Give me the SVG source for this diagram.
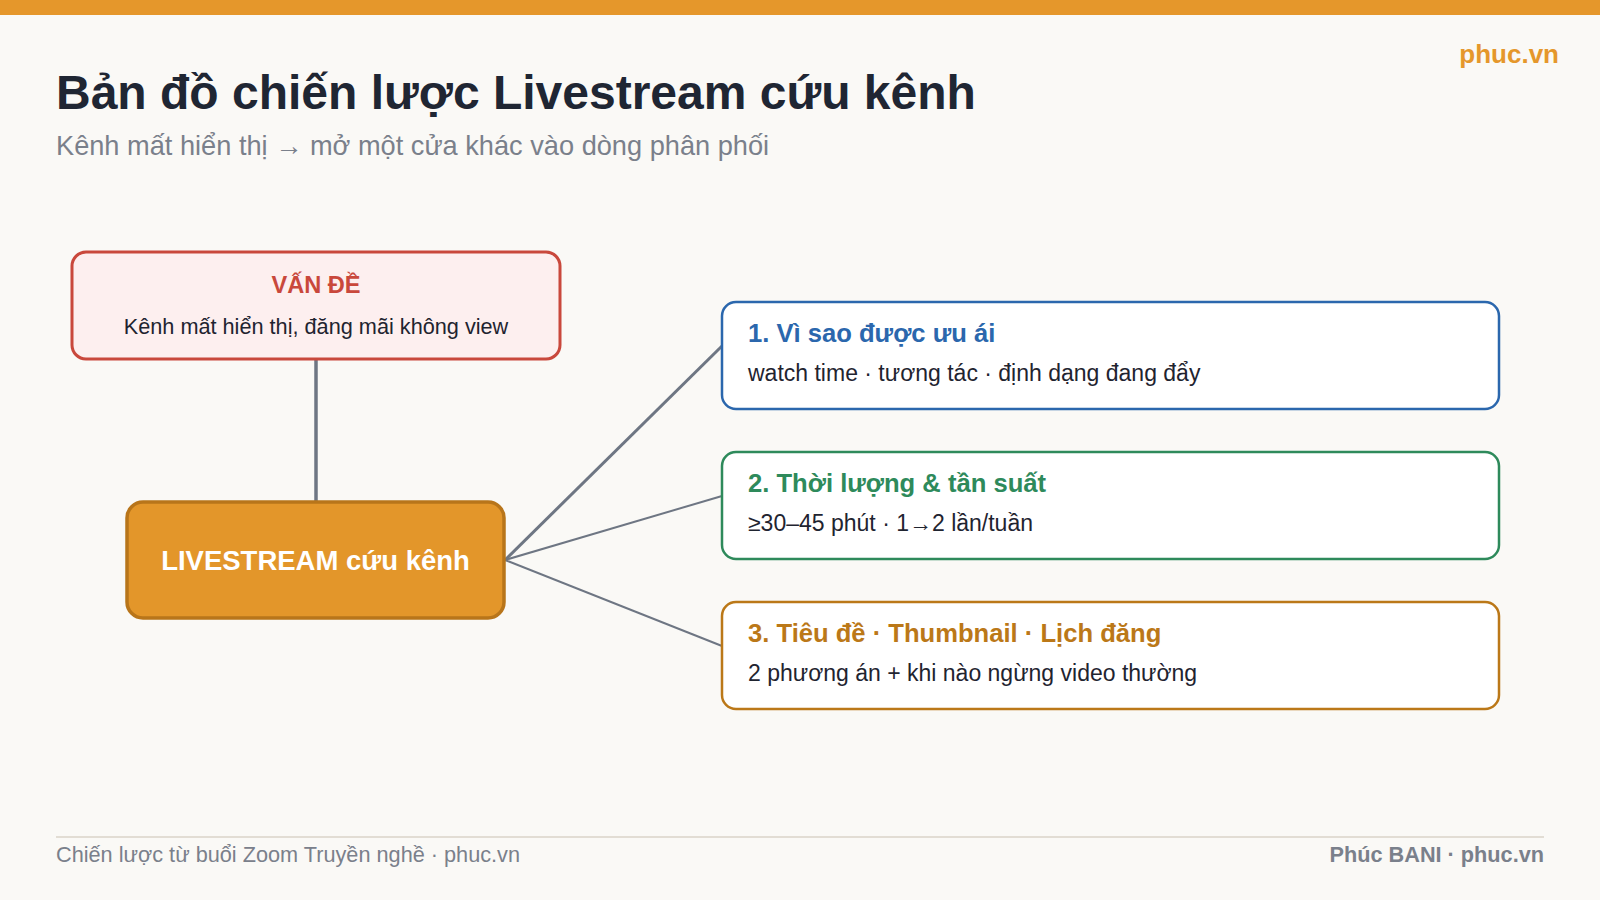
<svg xmlns="http://www.w3.org/2000/svg" width="1600" height="900" viewBox="0 0 1600 900">
<style>
text{font-family:"Liberation Sans",Arial,sans-serif}
.b{font-weight:bold}
.card{fill:#ffffff;stroke-width:2.5}
.t{font-size:25.6px;font-weight:bold}
.s{font-size:23px;fill:#1f2430}
.conn{stroke:#6e7683;fill:none}
</style>
<rect x="0" y="0" width="1600" height="900" fill="#faf9f6"/>
<rect x="0" y="0" width="1600" height="15" fill="#e5972b"/>
<text x="1559" y="63" text-anchor="end" class="b" font-size="26" fill="#e5972b">phuc.vn</text>
<text x="56" y="109" class="b" font-size="48" fill="#1f2633">Bản đồ chiến lược Livestream cứu kênh</text>
<text x="56" y="155" font-size="27.2" fill="#7a808b">Kênh mất hiển thị → mở một cửa khác vào dòng phân phối</text>
<g id="connectors">
<line class="conn" x1="316" y1="360" x2="316" y2="502" stroke-width="3.5"/>
<line class="conn" x1="505" y1="560" x2="722" y2="346" stroke-width="3"/>
<line class="conn" x1="505" y1="560" x2="722" y2="496" stroke-width="2"/>
<line class="conn" x1="505" y1="560" x2="722" y2="646" stroke-width="2"/>
</g>
<g id="problem">
<rect x="72" y="252" width="488" height="107" rx="14" fill="#fdefef" stroke="#c9483c" stroke-width="3"/>
<text x="316" y="293" text-anchor="middle" class="b" font-size="23.6" fill="#c9483c">VẤN ĐỀ</text>
<text x="316" y="334" text-anchor="middle" font-size="21.7" fill="#1f2430">Kênh mất hiển thị, đăng mãi không view</text>
</g>
<g id="center">
<rect x="127" y="502" width="377" height="116" rx="16" fill="#e3962a" stroke="#b8751a" stroke-width="3.5"/>
<text x="315.5" y="570" text-anchor="middle" class="b" font-size="27.5" fill="#ffffff">LIVESTREAM cứu kênh</text>
</g>
<g id="card1">
<rect class="card" x="722" y="302" width="777" height="107" rx="14" stroke="#2b67ad"/>
<text x="748" y="342" class="t" fill="#2b67ad">1. Vì sao được ưu ái</text>
<text x="748" y="381" class="s">watch time · tương tác · định dạng đang đẩy</text>
</g>
<g id="card2">
<rect class="card" x="722" y="452" width="777" height="107" rx="14" stroke="#2e8a5b"/>
<text x="748" y="492" class="t" fill="#2e8a5b">2. Thời lượng &amp; tần suất</text>
<text x="748" y="531" class="s">≥30–45 phút · 1→2 lần/tuần</text>
</g>
<g id="card3">
<rect class="card" x="722" y="602" width="777" height="107" rx="14" stroke="#bb7818"/>
<text x="748" y="642" class="t" fill="#bb7818">3. Tiêu đề · Thumbnail · Lịch đăng</text>
<text x="748" y="681" class="s">2 phương án + khi nào ngừng video thường</text>
</g>
<rect x="56" y="836" width="1488" height="2" fill="#e2ddd4"/>
<text x="56" y="862" font-size="21.7" fill="#7a808b">Chiến lược từ buổi Zoom Truyền nghề · phuc.vn</text>
<text x="1544" y="862" text-anchor="end" class="b" font-size="21.7" fill="#7a808b">Phúc BANI · phuc.vn</text>
</svg>
